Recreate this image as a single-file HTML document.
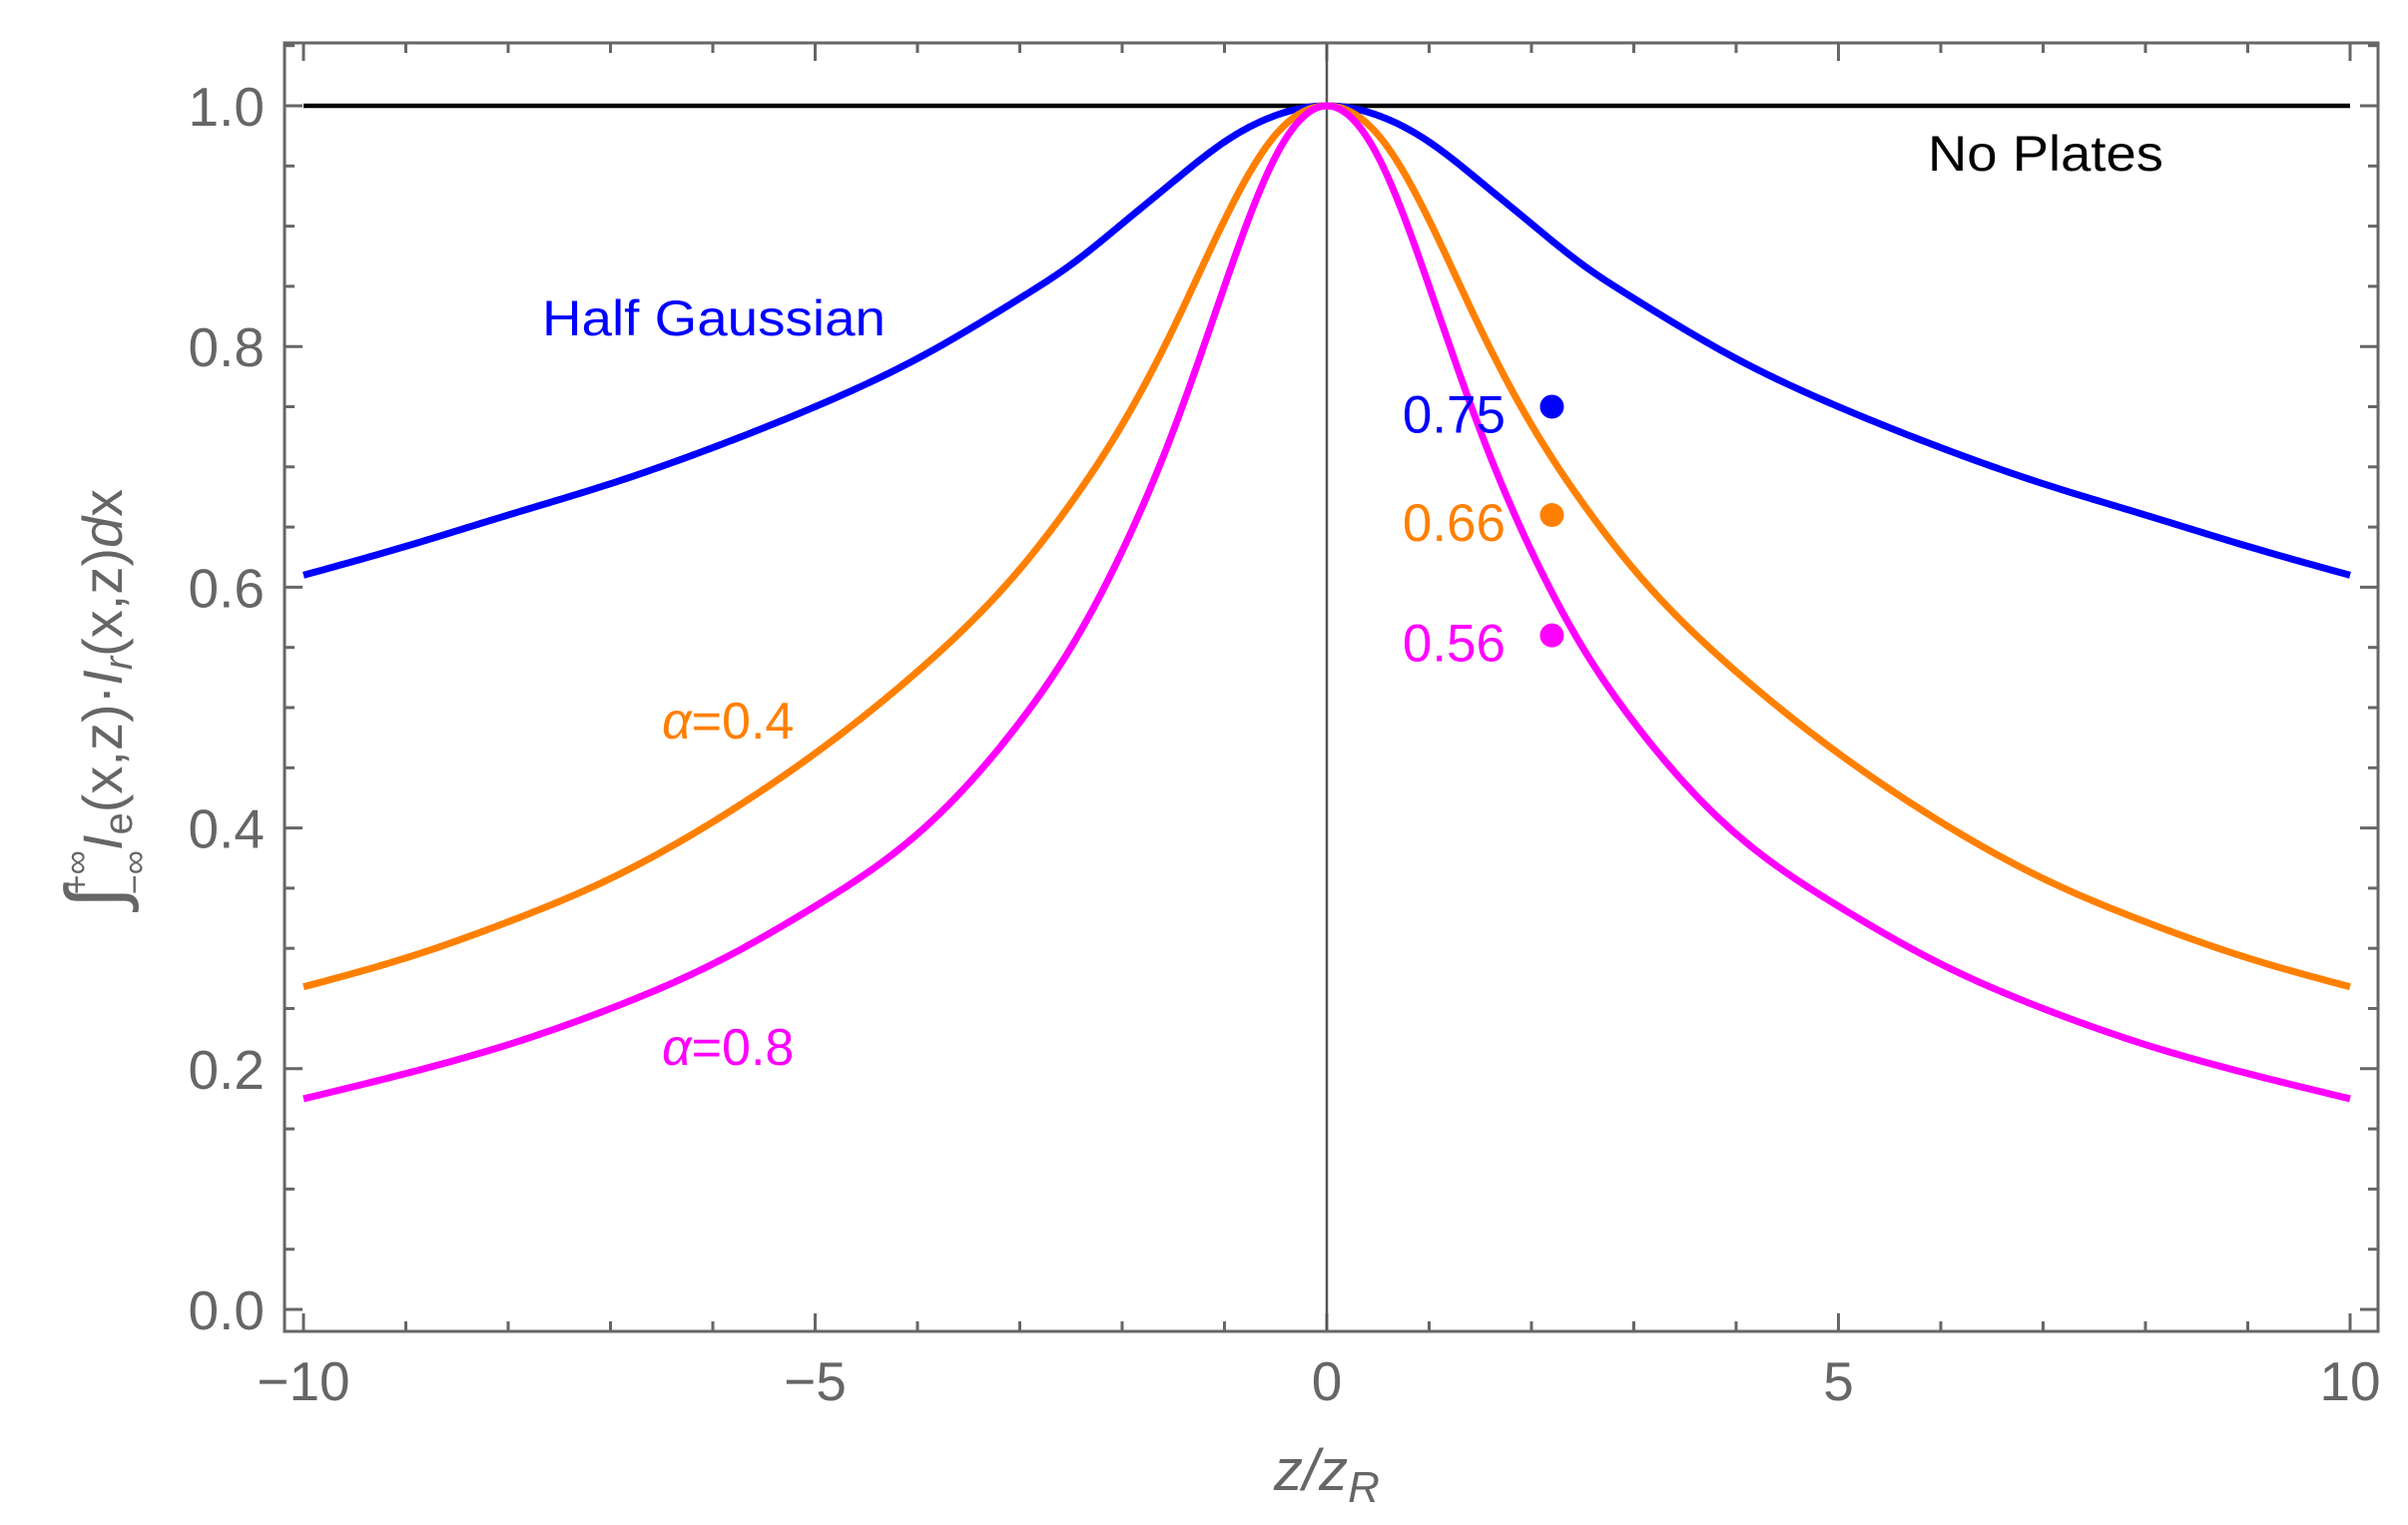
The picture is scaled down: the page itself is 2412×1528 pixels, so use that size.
<!DOCTYPE html>
<html><head><meta charset="utf-8"><style>
html,body{margin:0;padding:0;background:#fff;}
svg{display:block;}
text{font-family:"Liberation Sans",sans-serif;}
</style></head><body>
<svg id="chart" width="2412" height="1528" viewBox="0 0 2412 1528" xmlns="http://www.w3.org/2000/svg">
<rect x="0" y="0" width="2412" height="1528" fill="#fff"/>
<g id="ticks"></g>
<g id="series"></g>
<rect x="285" y="43" width="2097" height="1291" fill="none" stroke="#666" stroke-width="3"/>
<text x="543" y="336" font-size="50" fill="#0000ff" textLength="344" lengthAdjust="spacingAndGlyphs">Half Gaussian</text>
<text x="1931" y="171" font-size="50" fill="#000" textLength="236" lengthAdjust="spacingAndGlyphs">No Plates</text>
<text x="663" y="740" font-size="52" fill="#ff8000"><tspan font-style="italic">α</tspan>=0.4</text>
<text x="663" y="1067" font-size="52" fill="#ff00ff"><tspan font-style="italic">α</tspan>=0.8</text>
<text x="1329" y="1493" font-size="58" fill="#666" font-style="italic" text-anchor="middle">z/z<tspan font-size="44" dy="12">R</tspan></text>
<text transform="translate(122,700) rotate(-90)" font-size="56" fill="#666" text-anchor="middle"><tspan font-size="80">∫</tspan><tspan font-size="34" dy="-34" dx="-8">+∞</tspan><tspan font-size="34" dy="58" dx="-44">−∞</tspan><tspan font-style="italic" dy="-24">I</tspan><tspan font-size="40" dy="10">e</tspan><tspan dy="-10">(x,z)·</tspan><tspan font-style="italic">I</tspan><tspan font-size="40" font-style="italic" dy="10">r</tspan><tspan dy="-10">(x,z)</tspan><tspan font-style="italic">d</tspan>x</text>
</svg>
<script>
const zs      = [0, 0.5, 1, 1.5, 2, 2.5, 3, 4, 5, 6, 7, 8, 9, 10];
const blueVals    = [1, 0.992, 0.97, 0.937, 0.902, 0.868, 0.84, 0.79, 0.75, 0.716, 0.686, 0.66, 0.634, 0.61];
const orangeVals  = [1, 0.976, 0.905, 0.815, 0.735, 0.67, 0.615, 0.53, 0.462, 0.405, 0.358, 0.322, 0.292, 0.268];
const magentaVals = [1, 0.958, 0.85, 0.73, 0.63, 0.55, 0.488, 0.395, 0.335, 0.287, 0.25, 0.22, 0.196, 0.175];
const pointZ = [2.2, 2.2, 2.2];
const pointVals = [0.75, 0.66, 0.56];
const pointLabels = ["0.75", "0.66", "0.56"];
const xTickVals = [-10, -5, 0, 5, 10];
const xTickLabels = ["−10", "−5", "0", "5", "10"];
const yTickVals = [0, 0.2, 0.4, 0.6, 0.8, 1.0];
const yTickLabels = ["0.0", "0.2", "0.4", "0.6", "0.8", "1.0"];

const NS = "http://www.w3.org/2000/svg";
const X = z => 1329 + 102.5 * z;
const Y = v => 1312 - 1206 * v;
function mk(tag, attrs, parent){const e=document.createElementNS(NS,tag);for(const k in attrs)e.setAttribute(k,attrs[k]);parent.appendChild(e);return e;}
const tk = document.getElementById('ticks');
const sr = document.getElementById('series');

for (let i=-10;i<=10;i++){
  const len = (i%5===0)?18:10;
  let t=mk('line',{x1:X(i),x2:X(i),y1:1334,y2:1334-len,stroke:'#666','stroke-width':3},tk);
  
  
  t=mk('line',{x1:X(i),x2:X(i),y1:43,y2:43+len,stroke:'#666','stroke-width':3},tk);
  
  
}
for (let i=0;i<=21;i++){
  const v=i*0.05; const len=(i%4===0)?18:10;
  let t=mk('line',{x1:285,x2:285+len,y1:Y(v),y2:Y(v),stroke:'#666','stroke-width':3},tk);
  
  
  t=mk('line',{x1:2382,x2:2382-len,y1:Y(v),y2:Y(v),stroke:'#666','stroke-width':3},tk);
  
  
}
xTickVals.forEach((v,i)=>{
  const t=mk('text',{x:X(v),y:1403,'font-size':55,fill:'#666','text-anchor':'middle'},tk);
  t.textContent=xTickLabels[i];
  
  
});
yTickVals.forEach((v,i)=>{
  const t=mk('text',{x:265,y:Y(v)+20,'font-size':55,fill:'#666','text-anchor':'end'},tk);
  t.textContent=yTickLabels[i];
  
  
});

let l=mk('line',{x1:X(0),x2:X(0),y1:43,y2:1334,stroke:'#555','stroke-width':2.5},sr);


l=mk('line',{x1:X(-10),x2:X(10),y1:Y(1),y2:Y(1),stroke:'#000','stroke-width':4.5},sr);



// natural cubic spline through mirrored data
function curve(vals){
  const xs=[], ys=[];
  for(let i=zs.length-1;i>0;i--){xs.push(-zs[i]);ys.push(vals[i]);}
  for(let i=0;i<zs.length;i++){xs.push(zs[i]);ys.push(vals[i]);}
  const n=xs.length, h=[], a=[], b=[], c=[], r=[], M=new Array(n).fill(0);
  for(let i=0;i<n-1;i++) h.push(xs[i+1]-xs[i]);
  for(let i=1;i<n-1;i++){
    a.push(h[i-1]); b.push(2*(h[i-1]+h[i])); c.push(h[i]);
    r.push(6*((ys[i+1]-ys[i])/h[i]-(ys[i]-ys[i-1])/h[i-1]));
  }
  const m=b.length;
  for(let i=1;i<m;i++){const w=a[i]/b[i-1]; b[i]-=w*c[i-1]; r[i]-=w*r[i-1];}
  const sol=new Array(m);
  sol[m-1]=r[m-1]/b[m-1];
  for(let i=m-2;i>=0;i--) sol[i]=(r[i]-c[i]*sol[i+1])/b[i];
  for(let i=0;i<m;i++) M[i+1]=sol[i];
  let path='';
  for(let i=0;i<n-1;i++){
    const hi=h[i];
    for(let s=0;s<=20;s++){
      if(i>0&&s===0) continue;
      const zz=xs[i]+hi*s/20, A=(xs[i+1]-zz)/hi, B=(zz-xs[i])/hi;
      const v=A*ys[i]+B*ys[i+1]+((A*A*A-A)*M[i]+(B*B*B-B)*M[i+1])*hi*hi/6;
      path+=(path?' L':'M')+X(zz).toFixed(2)+','+Y(v).toFixed(2);
    }
  }
  return path;
}
const series=[['blue-curve',blueVals,'#0000ff'],['orange-curve',orangeVals,'#ff8000'],['magenta-curve',magentaVals,'#ff00ff']];
series.forEach(s=>{
  const p=mk('path',{d:curve(s[1]),fill:'none',stroke:s[2],'stroke-width':7,'stroke-linejoin':'round'},sr);
  
  
});
const pcols=['#0000ff','#ff8000','#ff00ff'];
pointVals.forEach((v,i)=>{
  const c=mk('circle',{cx:X(pointZ[i]),cy:Y(v),r:12,fill:pcols[i]},sr);
  
  
  const t=mk('text',{x:1508,y:Y(v)+26,'font-size':53,fill:pcols[i],'text-anchor':'end'},sr);
  t.textContent=pointLabels[i];
  
  
});
</script>
</body></html>
